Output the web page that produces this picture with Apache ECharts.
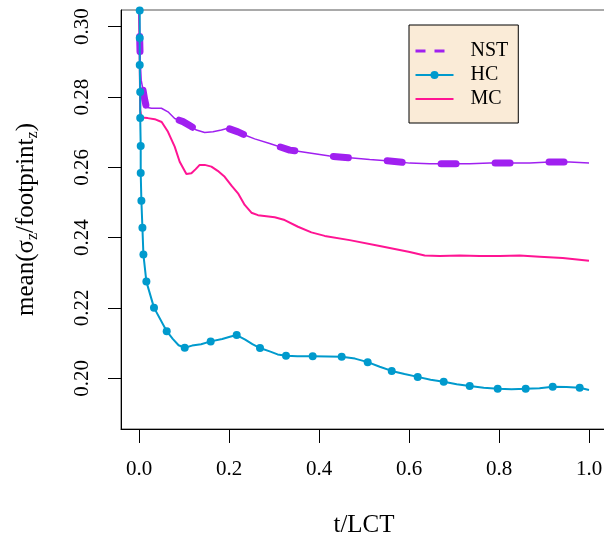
<!DOCTYPE html>
<html><head><meta charset="utf-8">
<script src="https://cdn.jsdelivr.net/npm/echarts@6/dist/echarts.min.js"></script>
<style>html,body{margin:0;padding:0;background:#fff}#c{width:604px;height:533px}</style>
</head><body><div id="c"></div>
<script>
// ---- data ----
const xTicks = [0, 0.2, 0.4, 0.6, 0.8, 1.0];
const yTicks = [0.20, 0.22, 0.24, 0.26, 0.28, 0.30];

const nstData = [
  [0.0, 0.306], [0.0016, 0.2962], [0.0027, 0.2905], [0.0049, 0.2848], [0.0089, 0.2820],
  [0.0127, 0.2792], [0.0164, 0.2771], [0.0276, 0.2768], [0.0498, 0.2768], [0.0644, 0.2758],
  [0.0793, 0.2739], [0.0978, 0.2730], [0.1164, 0.2716], [0.1276, 0.2706], [0.146, 0.2699],
  [0.1644, 0.2701], [0.1831, 0.2706], [0.1978, 0.2711], [0.22, 0.2701], [0.2349, 0.2692],
  [0.2571, 0.2681], [0.2904, 0.2668], [0.3349, 0.2649], [0.3793, 0.2641], [0.4238, 0.2632],
  [0.4682, 0.2627], [0.5127, 0.2622], [0.5571, 0.2618], [0.6016, 0.2612], [0.646, 0.2610],
  [0.6904, 0.2610], [0.7349, 0.2610], [0.7793, 0.2612], [0.8238, 0.2612], [0.8682, 0.2612],
  [0.9127, 0.2615], [0.9571, 0.2615], [1.0, 0.2612]
];

const mcData = [
  [0.0, 0.306], [0.0016, 0.2905], [0.0027, 0.2763], [0.0053, 0.2742], [0.0193, 0.2740],
  [0.0349, 0.2737], [0.0393, 0.2740], [0.0504, 0.2729], [0.0644, 0.2701], [0.0793, 0.2659],
  [0.0904, 0.2616], [0.1053, 0.2581], [0.1164, 0.2583], [0.126, 0.2595], [0.1349, 0.2607],
  [0.146, 0.2607], [0.1609, 0.2602], [0.1749, 0.2590], [0.1904, 0.2573], [0.206, 0.2547],
  [0.22, 0.2526], [0.2349, 0.2493], [0.2498, 0.2471], [0.2644, 0.2464], [0.3016, 0.2458],
  [0.3238, 0.2450], [0.3533, 0.2431], [0.3831, 0.2415], [0.4127, 0.2405], [0.4682, 0.2393],
  [0.5349, 0.2376], [0.6016, 0.2359], [0.6349, 0.2349], [0.6682, 0.2348], [0.7127, 0.2349],
  [0.7571, 0.2348], [0.8016, 0.2348], [0.846, 0.2349], [0.8904, 0.2346], [0.9416, 0.2342],
  [1.0, 0.2334]
];

const hcMarkers = [
  [0.0016, 0.3046], [0.0016, 0.2968], [0.0016, 0.2891], [0.0027, 0.2814], [0.0027, 0.2740],
  [0.0038, 0.2661], [0.0038, 0.2584], [0.0053, 0.2505], [0.0076, 0.2428], [0.0098, 0.2352],
  [0.0164, 0.2275], [0.0333, 0.2201], [0.0616, 0.2134], [0.1016, 0.2087], [0.1593, 0.2105],
  [0.2171, 0.2123], [0.2689, 0.2086], [0.3267, 0.2064], [0.386, 0.2063], [0.4504, 0.2061],
  [0.5082, 0.2046], [0.5616, 0.2021], [0.6193, 0.2004], [0.6771, 0.1990], [0.7349, 0.1978],
  [0.7971, 0.1970], [0.8593, 0.1970], [0.9193, 0.1976], [0.9793, 0.1973]
];
const hcBetween = [
  [0.0, 0.306], [0.075, 0.2112], [0.088, 0.2094], [0.118, 0.2093], [0.138, 0.2097],
  [0.185, 0.2112], [0.202, 0.2118], [0.236, 0.2110], [0.252, 0.2097], [0.292, 0.2076],
  [0.308, 0.2068], [0.352, 0.2063], [0.42, 0.2062], [0.48, 0.2056], [0.535, 0.2033],
  [0.59, 0.2012], [0.648, 0.1996], [0.706, 0.1983], [0.766, 0.1973], [0.828, 0.1969],
  [0.89, 0.1972], [0.95, 0.1975], [1.0, 0.1967]
];

// ---- build chart ----
const F = 'Liberation Serif';
const NSTC = '#A020F0', HCC = '#009ACD', MCC = '#FF1493';

const hcAll = hcMarkers.map(p => ({value: p, m: true}))
  .concat(hcBetween.map(p => ({value: p, m: false})))
  .sort((a, b) => (a.value[0] - b.value[0]) || (b.value[1] - a.value[1]));
const hcSeriesData = hcAll.map(d => d.m ? {value: d.value} : {value: d.value, symbol: 'none'});

const chart = echarts.init(document.getElementById('c'), null, {renderer: 'canvas'});
chart.setOption({
  animation: false,
  backgroundColor: '#fff',
  grid: {left: 121, right: -3, top: 10, bottom: 104, show: true, borderColor: '#555', borderWidth: 1,
         backgroundColor: 'transparent', containLabel: false, outerBoundsMode: 'none'},
  xAxis: {
    type: 'value', min: -0.04, max: 1.04,
    axisLine: {show: true, onZero: false, lineStyle: {color: '#000', width: 1}},
    axisTick: {show: true, customValues: xTicks, length: 14, lineStyle: {color: '#000', width: 1}},
    axisLabel: {show: true, customValues: xTicks, formatter: v => v.toFixed(1), fontFamily: F, fontSize: 21, color: '#000', margin: 30},
    splitLine: {show: false},
    name: 't/LCT', nameLocation: 'middle', nameGap: 84,
    nameTextStyle: {fontFamily: F, fontSize: 25, color: '#000'}
  },
  yAxis: {
    type: 'value', min: 0.18558, max: 0.30475,
    axisLine: {show: true, onZero: false, lineStyle: {color: '#000', width: 1}},
    axisTick: {show: true, customValues: yTicks, length: 13, lineStyle: {color: '#000', width: 1}},
    axisLabel: {show: true, customValues: yTicks, rotate: 90, formatter: v => v.toFixed(2), fontFamily: F, fontSize: 21, color: '#000', margin: 28},
    splitLine: {show: false},
    name: '{a|mean(σ}{s|z}{a|/footprint}{s|z}{a|)}', nameLocation: 'middle', nameRotate: 90, nameGap: 80,
    nameTextStyle: {
      fontFamily: F, fontSize: 25, color: '#000',
      rich: {
        a: {fontFamily: F, fontSize: 25, color: '#000', lineHeight: 30},
        s: {fontFamily: F, fontSize: 16, color: '#000', lineHeight: 30, padding: [14, 0, 0, 0]}
      }
    }
  },
  legend: {
    orient: 'vertical', left: 409, top: 25,
    backgroundColor: '#FAEBD7', borderColor: '#000', borderWidth: 1, borderRadius: 0,
    padding: [16, 10, 14, 5],
    itemWidth: 38, itemHeight: 10, itemGap: 4,
    textStyle: {fontFamily: F, fontSize: 20, color: '#000', padding: [0, 0, 0, 12]},
    data: [
      {name: 'NST', itemStyle: {opacity: 0}, lineStyle: {width: 3, type: [10, 9], cap: 'butt', dashOffset: 0}},
      {name: 'HC'},
      {name: 'MC', itemStyle: {opacity: 0}}
    ]
  },
  series: [
    {name: 'NST thin', type: 'line', data: nstData, symbol: 'none', lineStyle: {color: NSTC, width: 1.5}, z: 3},
    {name: 'NST', type: 'line', data: nstData, symbol: 'none', itemStyle: {color: NSTC},
     lineStyle: {color: NSTC, width: 7, type: [15, 39], dashOffset: 23, cap: 'round'}, z: 3},
    {name: 'HC', type: 'line', data: hcSeriesData, symbol: 'circle', symbolSize: 8, showSymbol: true,
     itemStyle: {color: HCC}, lineStyle: {color: HCC, width: 2}, z: 4},
    {name: 'MC', type: 'line', data: mcData, symbol: 'none', itemStyle: {color: MCC}, lineStyle: {color: MCC, width: 2}, z: 2}
  ]
});
</script>
</body></html>
